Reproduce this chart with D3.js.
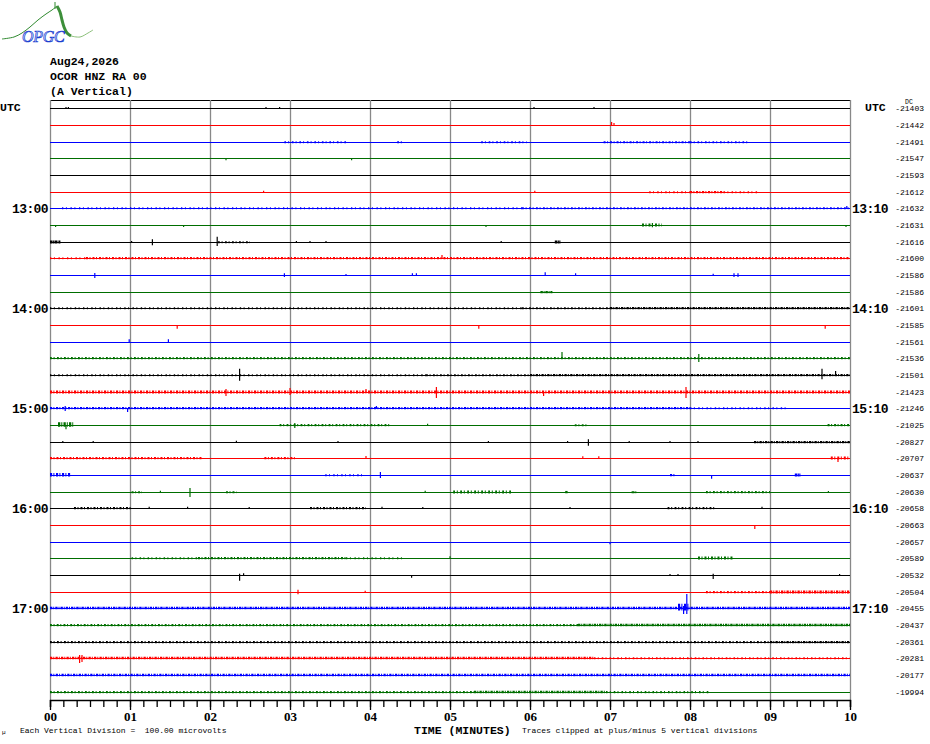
<!DOCTYPE html>
<html>
<head>
<meta charset="utf-8">
<script src="https://cdn.jsdelivr.net/npm/d3@7"></script>
<style>
  body { margin: 0; background: #fff; }
  svg { display: block; }
  text { font-family: "Liberation Mono", "DejaVu Sans Mono", monospace; }
</style>
</head>
<body>
<div id="chart"></div>
<script>
// helicorder page: 36 traces of 10 minutes, 12:00 -> 18:00 UTC
const stationLines = ["Aug24,2026", "OCOR HNZ RA 00", "(A Vertical)"];
const minuteTicks = d3.range(0, 11);
const traceColors = ["#000000", "#ff0000", "#0000ff", "#006e00"];
const hourRows = [6, 12, 18, 24, 30];
const hourLeft = ["13:00", "14:00", "15:00", "16:00", "17:00"];
const hourRight = ["13:10", "14:10", "15:10", "16:10", "17:10"];

const dcValues = [
  -21403, -21442, -21491, -21547, -21593, -21612, -21632, -21631, -21616,
  -21600, -21586, -21586, -21601, -21585, -21561, -21536, -21501, -21423,
  -21246, -21025, -20827, -20707, -20637, -20630, -20658, -20663, -20657,
  -20589, -20532, -20504, -20455, -20437, -20361, -20281, -20177, -19994
];

// noise bursts per trace: [startMin, endMin, level microvolts, coverage 0-1]
const traceBursts = [
  [],
  [],
  [[2.93, 3.7, 6, 0.4], [4.34, 4.4, 6, 0.5], [5.39, 5.96, 6, 0.4], [6.92, 8.0, 6, 0.6], [8.0, 8.74, 6, 0.4]],
  [],
  [],
  [[7.49, 8.0, 6, 0.3], [8.0, 8.42, 8, 0.7], [8.42, 8.86, 6, 0.3]],
  [[0.15, 5.9, 6, 0.2], [5.9, 10, 6, 0.5]],
  [[7.4, 7.65, 10, 0.6]],
  [[0, 0.13, 10, 1], [2.1, 2.5, 6, 0.5], [6.31, 6.38, 10, 1]],
  [[0, 0.45, 6, 0.2], [0.45, 10, 8, 0.6]],
  [],
  [[6.13, 6.28, 8, 0.9]],
  [[0, 5.9, 6, 0.25], [5.9, 7.0, 6, 0.5], [7.0, 10, 8, 0.8]],
  [],
  [],
  [[0, 10, 8, 0.5]],
  [[0, 4.7, 6, 0.25], [4.7, 6.0, 6, 0.5], [6.0, 10, 8, 0.75]],
  [[0, 10, 10, 0.7]],
  [[0, 8, 8, 0.7], [8, 9.2, 6, 0.25]],
  [[0.1, 0.29, 18, 0.8], [2.87, 4.27, 8, 0.5], [6.56, 6.73, 6, 0.5], [9.72, 10, 8, 0.6]],
  [[8.8, 10, 8, 0.8]],
  [[0, 1.9, 8, 0.6], [2.68, 3.06, 8, 0.6], [9.76, 10, 10, 0.6]],
  [[0, 0.26, 14, 0.7], [3.44, 3.9, 6, 0.3], [7.75, 7.82, 8, 0.7], [9.31, 9.38, 10, 1]],
  [[1.02, 1.15, 6, 0.6], [2.2, 2.33, 6, 0.6], [5.04, 5.77, 10, 0.5], [6.44, 6.47, 8, 1], [7.27, 7.33, 6, 1], [8.2, 9.0, 8, 0.5]],
  [[0.3, 1.02, 8, 0.6], [3.25, 3.95, 8, 0.6], [7.72, 8.32, 8, 0.5]],
  [],
  [],
  [[1.02, 1.85, 6, 0.3], [1.85, 3.7, 8, 0.6], [3.7, 4.4, 6, 0.2], [8.1, 8.55, 10, 0.6]],
  [],
  [[8.2, 9.0, 8, 0.5], [9.0, 10, 10, 0.8]],
  [[0, 10, 9, 0.85], [7.85, 8.0, 28, 0.7]],
  [[0, 6.6, 8, 0.55], [6.6, 10, 9, 0.85]],
  [[0, 9, 7, 0.5], [9, 10, 8, 0.8]],
  [[0, 6.8, 9, 0.8], [6.8, 10, 6, 0.35]],
  [[0, 10, 9, 0.75]],
  [[0, 5.3, 8, 0.5], [5.3, 6.95, 9, 0.8], [6.95, 8.23, 7, 0.35]]
];

// single excursions per trace: [minute, up microvolts, down microvolts]
const traceSpikes = [
  [[0.2, 6, 0], [0.23, 6, 0], [2.7, 6, 0], [2.87, 6, 0], [6.05, 6, 0], [6.8, 6, 0]],
  [[7.02, 18, 0], [7.05, 12, 0]],
  [],
  [[2.2, 0, 8], [3.77, 0, 8]],
  [],
  [[2.67, 8, 0], [6.06, 8, 0]],
  [[9.96, 12, 0]],
  [[0.07, 0, 6], [1.67, 0, 6], [5.45, 0, 6], [9.95, 0, 6], [7.53, 12, 8]],
  [[1.02, 6, 0], [1.28, 16, 14], [2.09, 32, 18], [3.08, 6, 0], [3.25, 6, 0], [3.45, 6, 0], [5.64, 6, 0]],
  [[4.9, 18, 0]],
  [[0.56, 12, 12], [2.93, 10, 6], [3.7, 6, 0], [4.53, 10, 0], [4.58, 10, 0], [6.19, 16, 0], [6.57, 10, 0], [8.29, 8, 0], [8.55, 10, 6], [8.6, 10, 6]],
  [],
  [],
  [[1.59, 0, 16], [5.36, 0, 16], [9.69, 0, 16]],
  [[0.99, 16, 0], [1.48, 16, 0]],
  [[6.4, 36, 0], [8.11, 24, 18]],
  [[2.37, 38, 28], [9.65, 38, 20], [9.82, 24, 0]],
  [[2.2, 18, 18], [3.0, 24, 12], [3.95, 18, 0], [4.83, 30, 30], [6.17, 0, 18], [7.95, 30, 30]],
  [[0.19, 12, 12], [0.97, 0, 18], [4.08, 12, 0]],
  [[0.2, 0, 20], [3.06, 12, 12], [4.72, 8, 0]],
  [[0.16, 6, 0], [0.54, 6, 0], [2.33, 8, 0], [3.6, 6, 0], [5.48, 6, 0], [6.47, 6, 0], [6.73, 16, 16], [7.24, 6, 0], [7.75, 6, 0], [8.1, 6, 0]],
  [[3.95, 12, 0], [6.66, 10, 0], [6.86, 10, 0], [9.85, 0, 18]],
  [[4.13, 18, 12], [8.27, 0, 16]],
  [[1.75, 24, 24], [1.38, 8, 0], [4.69, 8, 0], [9.73, 6, 0]],
  [[1.24, 8, 0], [1.72, 8, 0], [2.49, 6, 0], [4.15, 8, 0], [4.66, 6, 0], [6.5, 6, 0], [8.9, 8, 0]],
  [[8.81, 0, 18]],
  [[7.0, 0, 8]],
  [[5.0, 10, 0]],
  [[2.37, 8, 28], [2.42, 10, 0], [4.52, 0, 10], [7.75, 6, 0], [7.85, 6, 0], [8.29, 8, 18], [9.87, 6, 0]],
  [[3.1, 14, 8], [3.94, 8, 0]],
  [[7.96, 84, 30], [7.92, 12, 30]],
  [],
  [],
  [[0.37, 18, 24], [0.4, 18, 18]],
  [],
  []
];

// logo outline (OPGC mark)
const logoThin = [[2, 39], [14, 37], [22, 33], [30, 27], [38, 20], [46, 14], [52, 10], [57, 6]];
const logoThick = [[57, 6], [60, 12], [62, 20], [64, 27], [67, 33], [71, 36]];
const logoTail = [[71, 36], [80, 37], [88, 33], [93, 30]];

const W = 930, H = 744;
const pLeft = 50, pRight = 850, pTop = 100, pBottom = 700;
const nRows = dcValues.length;
const rowH = (pBottom - pTop) / nRows;

const svg = d3.select("#chart").append("svg")
  .attr("width", W).attr("height", H);

const x = d3.scaleLinear().domain([0, 10]).range([pLeft, pRight]);
const y = d3.scaleLinear().domain([-0.5, nRows - 0.5]).range([pTop, pBottom]);
// one vertical division = 100 microvolts = one row spacing
const amp = d3.scaleLinear().domain([0, 100]).range([0, rowH]);

// logo
const logo = svg.append("g");
const ln = d3.line().curve(d3.curveCatmullRom);
logo.append("path").attr("d", ln(logoThin)).attr("fill", "none")
  .attr("stroke", "#2f8a2f").attr("stroke-width", 1);
logo.append("path").attr("d", ln(logoThick)).attr("fill", "none")
  .attr("stroke", "#3d8f3a").attr("stroke-width", 3);
logo.append("path").attr("d", ln(logoTail)).attr("fill", "none")
  .attr("stroke", "#8cc07a").attr("stroke-width", 1);
logo.append("line").attr("x1", 55).attr("x2", 55).attr("y1", 2).attr("y2", 9)
  .attr("stroke", "#2f8a2f");
logo.append("text").attr("x", 22).attr("y", 42)
  .style("font-family", "'Liberation Serif', serif").style("font-style", "italic")
  .style("font-size", "16px").attr("fill", "#cfe0ff").attr("stroke", "#1c3fcf")
  .attr("stroke-width", 0.7).attr("letter-spacing", "-0.3")
  .text("OPGC");

// header
svg.selectAll("text.hdr").data(stationLines).join("text")
  .attr("class", "hdr")
  .attr("x", pLeft).attr("y", (d, i) => 65 + i * 15)
  .style("font-size", "11.5px").style("font-weight", "bold")
  .text(d => d);

// grid
svg.append("line").attr("x1", pLeft).attr("x2", pRight)
  .attr("y1", pTop + 0.5).attr("y2", pTop + 0.5).attr("stroke", "#000");
svg.selectAll("line.vgrid").data(minuteTicks).join("line")
  .attr("class", "vgrid")
  .attr("x1", d => Math.round(x(d)) + 0.5).attr("x2", d => Math.round(x(d)) + 0.5)
  .attr("y1", pTop).attr("y2", pBottom)
  .attr("stroke", "#888").attr("stroke-width", 1.3);

// traces
const rows = svg.append("g").selectAll("g").data(dcValues).join("g")
  .attr("transform", (d, i) => `translate(0,${Math.round(y(i)) + 0.5})`)
  .attr("stroke", (d, i) => traceColors[i % 4]);

rows.append("line")
  .attr("x1", pLeft).attr("x2", pRight).attr("y1", 0).attr("y2", 0)
  .attr("stroke-width", 1.2);

rows.selectAll("line.burst").data((d, i) => traceBursts[i]).join("line")
  .attr("class", "burst")
  .attr("x1", b => x(b[0])).attr("x2", b => x(b[1]))
  .attr("y1", b => -amp(b[2]) * 0.3).attr("y2", b => -amp(b[2]) * 0.3)
  .attr("stroke-width", b => amp(b[2]) * 1.3 + 0.6)
  .attr("stroke-dasharray", b => `${(1 + 1.6 * b[3]).toFixed(2)} ${(2.6 * (1 - b[3]) + 0.5).toFixed(2)} 1 ${(4 * (1 - b[3]) + 0.4).toFixed(2)}`);

rows.selectAll("line.spike").data((d, i) => traceSpikes[i]).join("line")
  .attr("class", "spike")
  .attr("x1", s => x(s[0])).attr("x2", s => x(s[0]))
  .attr("y1", s => -amp(s[1]) - 0.5).attr("y2", s => amp(s[2]) + 0.5)
  .attr("stroke-width", 1.2);

// labels
svg.append("text").attr("x", 0).attr("y", 111)
  .style("font-size", "11.5px").style("font-weight", "bold").text("UTC");
svg.append("text").attr("x", 865).attr("y", 111)
  .style("font-size", "11.5px").style("font-weight", "bold").text("UTC");
svg.append("text").attr("x", 905).attr("y", 104)
  .style("font-size", "6.5px").text("DC");

svg.selectAll("text.hl").data(hourRows).join("text")
  .attr("class", "hl")
  .attr("x", 48).attr("y", d => y(d) + 5).attr("text-anchor", "end")
  .style("font-size", "13px").style("font-weight", "bold").attr("letter-spacing", "-0.6")
  .text((d, i) => hourLeft[i]);
svg.selectAll("text.hr").data(hourRows).join("text")
  .attr("class", "hr")
  .attr("x", 852).attr("y", d => y(d) + 5)
  .style("font-size", "13px").style("font-weight", "bold").attr("letter-spacing", "-0.6")
  .text((d, i) => hourRight[i]);

svg.selectAll("text.dc").data(dcValues).join("text")
  .attr("class", "dc")
  .attr("x", 924).attr("y", (d, i) => y(i) + 3).attr("text-anchor", "end")
  .style("font-size", "8px")
  .text(d => d);

// time axis
const minor = d3.axisBottom(x).tickValues(d3.range(0, 60.5, 1).map(d => d / 6))
  .tickSize(7).tickFormat("");
svg.append("g").attr("transform", `translate(0,${pBottom})`).call(minor)
  .call(g => g.select(".domain").attr("stroke-width", 1.3));
const major = d3.axisBottom(x).tickValues(minuteTicks).tickSize(10)
  .tickFormat(d => d3.format("02d")(d));
svg.append("g").attr("transform", `translate(0,${pBottom})`).call(major)
  .call(g => g.select(".domain").remove())
  .call(g => g.selectAll("text").attr("y", 12)
    .style("font-family", "'Liberation Serif', serif")
    .style("font-size", "13px").style("font-weight", "bold"));
svg.selectAll(".tick line").attr("stroke", "#000").attr("stroke-width", 1.3);

svg.append("text").attr("x", 414).attr("y", 734)
  .style("font-size", "11.5px").style("font-weight", "bold").text("TIME (MINUTES)");
svg.append("text").attr("x", 522).attr("y", 733)
  .style("font-size", "8px").text("Traces clipped at plus/minus 5 vertical divisions");
svg.append("text").attr("x", 20).attr("y", 733)
  .style("font-size", "8px").attr("xml:space", "preserve")
  .text("Each Vertical Division =  100.00 microvolts");
svg.append("text").attr("x", 2).attr("y", 734)
  .style("font-size", "6px").attr("fill", "#000").text("µ");
</script>
</body>
</html>
